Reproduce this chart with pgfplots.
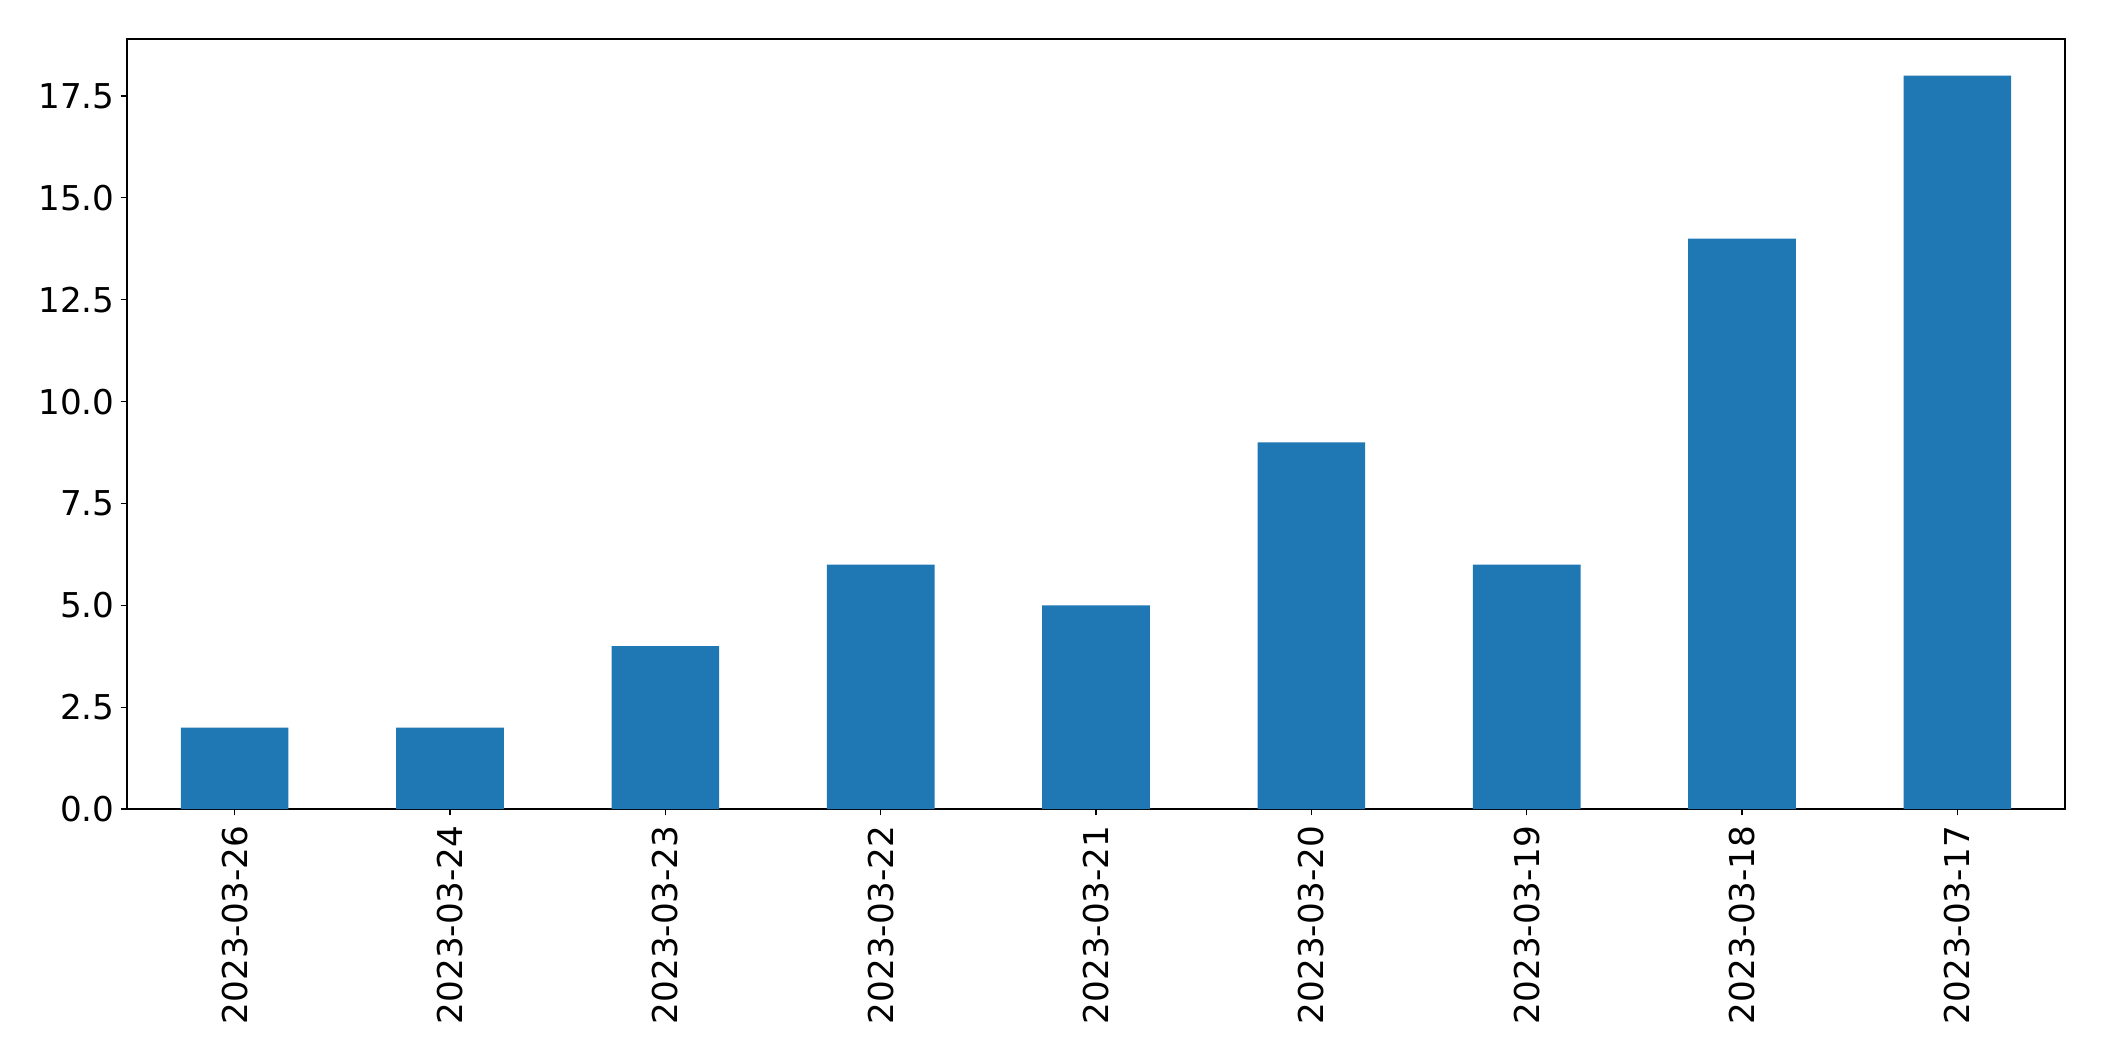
\documentclass[border=0pt]{standalone}
\usepackage{pgfplots}
\pgfplotsset{compat=1.18}
\usepackage{fontspec}
\setmainfont{DejaVu Sans}
\definecolor{mplblue}{HTML}{1F77B4}
\begin{document}
\begin{tikzpicture}
\useasboundingbox (-63.5pt,-126pt) rectangle (988.5pt,404.5pt);
\begin{axis}[
  at={(0,0)}, anchor=south west,
  scale only axis, width=969pt, height=385pt,
  xmin=-0.5, xmax=8.5, ymin=0, ymax=18.9,
  xtick={0,1,2,3,4,5,6,7,8},
  xticklabels={2023-03-26,2023-03-24,2023-03-23,2023-03-22,2023-03-21,2023-03-20,2023-03-19,2023-03-18,2023-03-17},
  x tick label style={rotate=90, anchor=east},
  ytick={0,2.5,5,7.5,10,12.5,15,17.5},
  yticklabel style={/pgf/number format/.cd, fixed, fixed zerofill, precision=1},
  /pgf/number format/assume math mode=true,
  tick label style={font=\fontsize{17.1}{20}\selectfont},
  tick align=outside, major tick length=3.2pt,
  tick style={black, line width=0.6pt},
  xtick pos=bottom, ytick pos=left,
  axis line style={line width=0.6pt},
  xticklabel shift=1.5pt, yticklabel shift=-0.5pt,
]
\addplot[ybar, bar width=0.5, fill=mplblue, draw=none] coordinates {
 (0,2) (1,2) (2,4) (3,6) (4,5) (5,9) (6,6) (7,14) (8,18)
};
\end{axis}
\end{tikzpicture}
\end{document}
